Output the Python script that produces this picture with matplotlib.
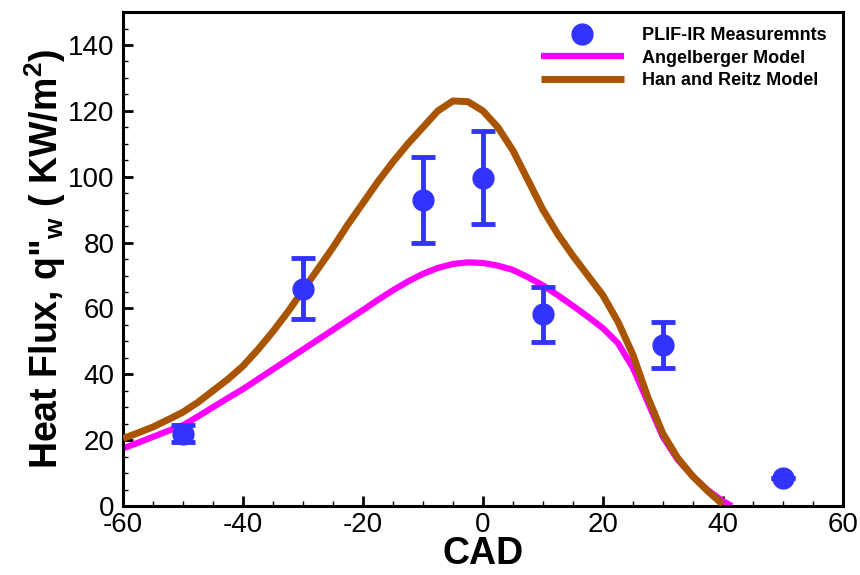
import matplotlib
matplotlib.use("Agg")
import matplotlib.pyplot as plt
from matplotlib.ticker import MultipleLocator
from matplotlib.lines import Line2D

plt.rcParams['font.family'] = ['Liberation Sans', 'DejaVu Sans']
plt.rcParams['mathtext.fontset'] = 'custom'
plt.rcParams['mathtext.rm'] = 'Liberation Sans:bold'
plt.rcParams['mathtext.bf'] = 'Liberation Sans:bold'
plt.rcParams['axes.unicode_minus'] = False

# measurements
cad_meas = [-50, -30, -10, 0, 10, 30, 50]
q_meas = [22, 66, 93, 99.7, 58.2, 49, 8.5]
q_err = [2.5, 9.3, 13, 14.1, 8.4, 7, 0]

# Angelberger model
cad_ang = [-60, -57.5, -55, -52.5, -50, -47.5, -45, -42.5, -40, -37.5, -35, -32.5, -30,
           -27.5, -25, -22.5, -20, -17.5, -15, -12.5, -10, -7.5, -5, -2.5, 0, 2.5, 5,
           7.5, 10, 12.5, 15, 17.5, 20, 22.5, 25, 27.5, 30, 32.5, 35, 37.5, 40, 41.5]
q_ang = [17.5, 19.2, 21, 22.8, 24.5, 27.2, 30, 32.8, 35.5, 38.5, 41.5, 44.5, 47.5,
         50.5, 53.5, 56.5, 59.5, 62.6, 65.5, 68.2, 70.5, 72.3, 73.5, 74, 73.8, 73, 71.7,
         69.5, 67, 64, 60.8, 57.5, 54, 49.5, 42, 31.5, 21, 14, 9, 4.8, 1.5, 0]

# Han and Reitz model
cad_han = [-60, -57.5, -55, -52.5, -50, -47.5, -45, -42.5, -40, -37.5, -35, -32.5, -30,
           -27.5, -25, -22.5, -20, -17.5, -15, -12.5, -10, -7.5, -5, -2.5, 0, 2.5, 5,
           7.5, 10, 12.5, 15, 17.5, 20, 22.5, 25, 27.5, 30, 32.5, 35, 37.5, 40]
q_han = [20.5, 22.2, 24, 26.2, 28.5, 31.5, 35, 38.5, 42.5, 47.5, 53, 59, 65.5,
         72, 78.5, 85.5, 92, 98.5, 104.5, 110, 115, 120, 123, 122.8, 120, 115, 108,
         99, 90, 82.5, 76, 70, 64, 56, 46, 33, 22, 14.5, 9, 4.5, 0.5]

fig = plt.figure(figsize=(8.6, 5.75), dpi=100)
ax = fig.add_axes([0.143, 0.12, 0.837, 0.859])

ax.plot(cad_ang, q_ang, color='#ff00ff', lw=4.5, solid_capstyle='butt', zorder=2)
ax.plot(cad_han, q_han, color='#a85400', lw=5, solid_capstyle='butt', zorder=3)
ax.errorbar(cad_meas, q_meas, yerr=q_err, fmt='o', color='#3333ff', ms=15,
            elinewidth=3.5, capsize=8.5, capthick=3.5, zorder=4)

ax.set_xlim(-60, 60)
ax.set_ylim(0, 150)
ax.set_yticks(range(0, 141, 20))
ax.xaxis.set_major_locator(MultipleLocator(20))
ax.xaxis.set_minor_locator(MultipleLocator(5))
ax.yaxis.set_minor_locator(MultipleLocator(5))
ax.tick_params(which='both', direction='in', top=False, right=False, labelsize=20)
ax.tick_params(which='major', length=7, width=2)
ax.tick_params(which='minor', length=3.5, width=1)
ax.tick_params(axis='x', pad=4)
ax.tick_params(axis='y', pad=6)
for s in ax.spines.values():
    s.set_linewidth(2.2)

ax.set_xlabel('CAD', fontsize=27, fontweight='bold', labelpad=-1)
ax.set_ylabel(r'Heat Flux, q"$_{\mathbf{w}}$ ( KW/m$^{\mathbf{2}}$)', fontsize=27, fontweight='bold', labelpad=0)

handles = [Line2D([], [], ls='none', marker='o', ms=15, color='#3333ff'),
           Line2D([], [], color='#ff00ff', lw=4.5, solid_capstyle='butt'),
           Line2D([], [], color='#a85400', lw=5, solid_capstyle='butt')]
labels = ['PLIF-IR Measuremnts', 'Angelberger Model', 'Han and Reitz Model']
ax.legend(handles, labels, loc='upper right',
          bbox_to_anchor=(0.995, 0.995), frameon=False, prop={'weight': 'bold', 'size': 13},
          handlelength=4.6, handletextpad=1.0, labelspacing=0.3, borderaxespad=0.3)

fig.savefig('out.png', dpi=100)
